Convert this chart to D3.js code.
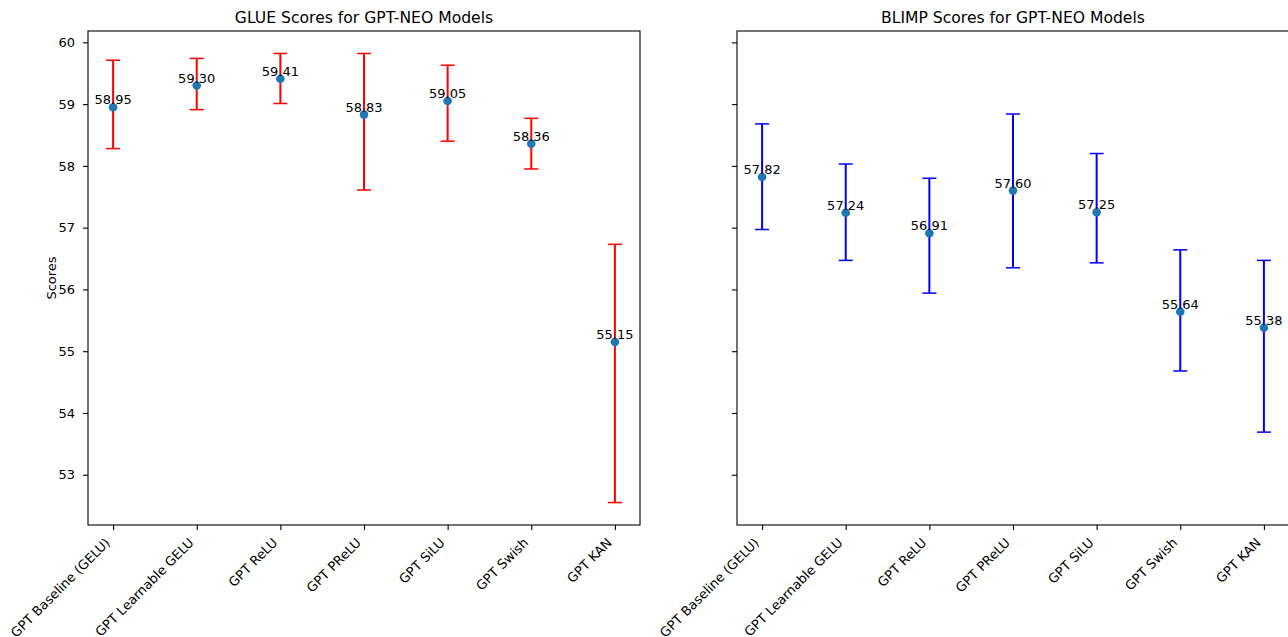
<!DOCTYPE html>
<html>
<head>
<meta charset="utf-8">
<script src="https://cdn.jsdelivr.net/npm/d3@7"></script>
<style>
  body { margin: 0; background: #fff; }
  svg text { font-family: "DejaVu Sans", sans-serif; fill: #000; }
</style>
</head>
<body>
<svg id="chart" width="1288" height="637"></svg>
<script>
// model names on the x axis
var models = ["GPT Baseline (GELU)", "GPT Learnable GELU", "GPT ReLU", "GPT PReLU", "GPT SiLU", "GPT Swish", "GPT KAN"];

// GLUE scores, with lower / upper ends of the error bars
var glueScores = [58.95, 59.30, 59.41, 58.83, 59.05, 58.36, 55.15];
var glueLow    = [58.28, 58.91, 59.01, 57.61, 58.40, 57.95, 52.55];
var glueHigh   = [59.71, 59.74, 59.82, 59.82, 59.63, 58.77, 56.73];

// BLIMP scores
var blimpScores = [57.82, 57.24, 56.91, 57.60, 57.25, 55.64, 55.38];
var blimpLow    = [56.97, 56.47, 55.94, 56.35, 56.43, 54.68, 53.69];
var blimpHigh   = [58.68, 58.03, 57.80, 58.84, 58.20, 56.64, 56.47];

var yTicks = [53, 54, 55, 56, 57, 58, 59, 60];

var svg = d3.select("#chart");
var plotTop = 31, plotBottom = 525;
var fs = 13;   // tick / label font size

// shared y limits, matplotlib style 5% margin
var lo = d3.min(glueLow.concat(blimpLow)), hi = d3.max(glueHigh.concat(blimpHigh));
var pad = (hi - lo) * 0.05;
var y = d3.scaleLinear().domain([lo - pad, hi + pad]).range([plotBottom, plotTop]);

function panel(left, right, title, scores, low, high, color, showLabels) {
  var x = d3.scaleLinear().domain([-0.3, models.length - 1 + 0.3]).range([left, right]);
  var g = svg.append("g");

  // y axis ticks
  var yAxis = d3.axisLeft(y).tickValues(yTicks).tickSize(5).tickPadding(8)
    .tickFormat(showLabels ? d3.format("d") : "");
  var ya = g.append("g").attr("transform", "translate(" + left + ",0)").call(yAxis);
  ya.select(".domain").remove();
  ya.selectAll("line").attr("stroke", "#000").attr("stroke-width", 1.1);
  ya.selectAll("text").style("font-size", fs + "px").attr("fill", "#000")
    .style("font-family", "DejaVu Sans");

  // x axis ticks
  var xa = g.append("g").attr("transform", "translate(0," + plotBottom + ")")
    .call(d3.axisBottom(x).tickValues(d3.range(models.length)).tickSize(5).tickFormat(""));
  xa.select(".domain").remove();
  xa.selectAll("line").attr("stroke", "#000").attr("stroke-width", 1.1);

  // rotated labels: top-right corner of the text box sits just below the tick
  var shift = 0.707 * 1.164 * fs;
  g.selectAll(".xlab").data(models).enter().append("text")
    .attr("transform", function(d, i) { return "translate(" + (x(i) - shift) + "," + (plotBottom + 10) + ") rotate(-45)"; })
    .attr("text-anchor", "end")
    .attr("dy", "0.93em")
    .style("font-size", fs + "px")
    .text(function(d) { return d; });

  // frame
  g.append("rect").attr("x", left).attr("y", plotTop)
    .attr("width", right - left).attr("height", plotBottom - plotTop)
    .attr("fill", "none").attr("stroke", "#000").attr("stroke-width", 1.1);

  // error bars
  var eb = g.selectAll(".eb").data(scores).enter().append("g");
  eb.append("line")
    .attr("x1", function(d, i) { return x(i); }).attr("x2", function(d, i) { return x(i); })
    .attr("y1", function(d, i) { return y(low[i]); }).attr("y2", function(d, i) { return y(high[i]); })
    .attr("stroke", color).attr("stroke-width", 2);
  [low, high].forEach(function(arr) {
    eb.append("line")
      .attr("x1", function(d, i) { return x(i) - 7; }).attr("x2", function(d, i) { return x(i) + 7; })
      .attr("y1", function(d, i) { return y(arr[i]); }).attr("y2", function(d, i) { return y(arr[i]); })
      .attr("stroke", color).attr("stroke-width", 1.5);
  });

  // points
  g.selectAll(".pt").data(scores).enter().append("circle")
    .attr("cx", function(d, i) { return x(i); })
    .attr("cy", function(d) { return y(d); })
    .attr("r", 4.3)
    .attr("fill", "#1f77b4");

  // value labels
  g.selectAll(".val").data(scores).enter().append("text")
    .attr("x", function(d, i) { return x(i); })
    .attr("y", function(d) { return y(d) - 3; })
    .attr("text-anchor", "middle")
    .style("font-size", fs + "px")
    .text(function(d) { return d.toFixed(2); });

  g.append("text")
    .attr("x", (left + right) / 2).attr("y", plotTop - 8)
    .attr("text-anchor", "middle")
    .style("font-size", "15.6px")
    .text(title);
}

panel(88, 640, "GLUE Scores for GPT-NEO Models", glueScores, glueLow, glueHigh, "#ff0000", true);
panel(737, 1289, "BLIMP Scores for GPT-NEO Models", blimpScores, blimpLow, blimpHigh, "#0000ff", false);

svg.append("text")
  .attr("transform", "translate(56," + ((plotTop + plotBottom) / 2) + ") rotate(-90)")
  .attr("text-anchor", "middle")
  .style("font-size", fs + "px")
  .text("Scores");
</script>
</body>
</html>
